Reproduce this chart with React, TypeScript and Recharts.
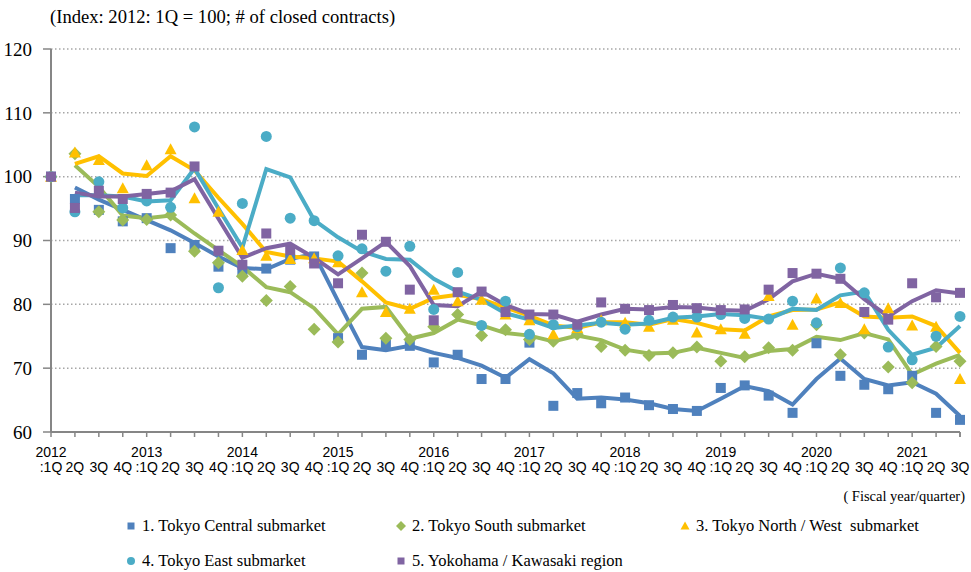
import { ComposedChart, Line, Scatter, XAxis, YAxis, CartesianGrid } from "recharts";

const years = ["2012", "2013", "2014", "2015", "2016", "2017", "2018", "2019", "2020", "2021"];
const quarterNames = [":1Q", "2Q", "3Q", "4Q"];
const quarterCount = 39; // 2012:1Q .. 2021:3Q

const yTicks = [60, 70, 80, 90, 100, 110, 120];

// quarterly index (markers)
const centralPts = [100, 96.5, 94.8, 93.0, 93.5, 88.8, 89.3, 85.9, 85.1, 85.6, 87.0, 87.5, 74.7, 72.1, 73.7, 73.5, 70.9, 72.1, 68.3, 68.3, 74.0, 64.1, 66.1, 64.5, 65.4, 64.2, 63.6, 63.3, 66.9, 67.3, 65.7, 63.0, 73.9, 68.8, 67.4, 66.7, 68.8, 63.0, 61.9];
const southPts = [100, 103.6, 94.5, 93.2, 93.3, 94.0, 88.3, 86.5, 84.4, 80.6, 82.8, 76.1, 74.1, 84.9, 74.7, 74.5, 76.5, 78.4, 75.1, 76.0, 74.5, 74.2, 75.3, 73.4, 72.8, 72.0, 72.4, 73.3, 71.1, 71.8, 73.2, 72.8, 76.8, 72.1, 75.5, 70.2, 67.7, 73.4, 71.1];
const northWestPts = [100, 103.8, 102.6, 98.2, 101.8, 104.3, 96.6, 94.5, 88.5, 87.6, 87.1, 87.2, 86.6, 81.9, 78.8, 79.3, 82.3, 80.5, 80.7, 78.4, 77.5, 75.3, 76.3, 77.5, 77.1, 76.5, 77.6, 75.6, 76.1, 75.4, 81.3, 76.8, 80.9, 80.2, 76.1, 79.4, 76.7, 76.5, 68.3];
const eastPts = [100, 94.5, 99.2, 95.1, 96.2, 95.2, 107.8, 82.6, 95.8, 106.3, 93.5, 93.1, 87.6, 88.7, 85.2, 89.1, 79.2, 85.0, 76.7, 80.5, 75.3, 76.8, 76.5, 77.2, 76.1, 77.5, 78.0, 78.0, 78.4, 77.8, 77.7, 80.5, 77.1, 85.7, 81.8, 73.3, 71.3, 75.0, 78.1];
const yokohamaPts = [100, 95.1, 97.8, 96.5, 97.3, 97.5, 101.6, 88.4, 86.2, 91.1, 88.5, 86.4, 83.3, 90.9, 89.8, 82.3, 77.5, 81.9, 82.0, 78.8, 78.4, 78.4, 76.8, 80.3, 79.3, 79.1, 79.9, 79.4, 79.1, 79.2, 82.3, 84.9, 84.8, 84.0, 78.8, 77.6, 83.3, 81.1, 81.8];

// smoothed trend lines (start at 2012:2Q)
const centralAvg = [null, 98.3, 96.4, 94.8, 93.2, 91.6, 89.6, 87.5, 85.7, 85.5, 87.1, 87.9, 80.5, 73.3, 72.8, 73.5, 72.4, 71.6, 70.4, 68.5, 71.4, 69.2, 65.2, 65.4, 65.1, 64.5, 63.6, 63.3, 65.2, 67.2, 66.4, 64.3, 68.3, 71.5, 68.3, 67.3, 67.8, 66.0, 62.5];
const southAvg = [null, 101.8, 98.4, 93.9, 93.5, 93.9, 91.1, 88.5, 85.9, 82.7, 81.9, 79.4, 75.3, 79.3, 79.6, 74.6, 75.5, 77.6, 76.7, 75.5, 75.1, 74.2, 75.1, 74.4, 72.9, 72.3, 72.4, 73.2, 72.4, 71.6, 72.7, 73.0, 74.9, 74.4, 75.5, 74.5, 69.0, 70.7, 72.1];
const northWestAvg = [null, 102.0, 103.2, 100.5, 100.1, 103.2, 101.0, 96.7, 92.6, 88.2, 87.5, 87.2, 86.7, 83.6, 80.3, 79.3, 81.0, 81.5, 80.8, 79.5, 78.2, 76.7, 76.3, 77.2, 77.2, 76.8, 77.7, 77.1, 76.1, 75.9, 78.1, 79.1, 79.2, 80.3, 78.1, 77.9, 78.1, 76.6, 72.4];
const eastAvg = [null, 97.1, 97.1, 96.9, 96.1, 96.3, 101.3, 95.0, 88.9, 101.2, 99.9, 93.2, 90.5, 88.3, 87.1, 87.0, 84.0, 82.0, 80.7, 78.6, 77.6, 76.3, 76.7, 77.1, 76.8, 77.0, 77.9, 78.1, 78.5, 78.3, 77.7, 79.3, 79.1, 81.4, 82.0, 76.0, 72.1, 73.2, 76.6];
const yokohamaAvg = [null, 97.5, 96.9, 96.9, 97.3, 97.7, 99.6, 93.4, 87.3, 88.8, 89.5, 87.3, 84.7, 87.2, 89.8, 86.0, 79.9, 79.7, 82.0, 79.9, 78.5, 78.4, 77.3, 78.4, 79.3, 79.2, 79.6, 79.5, 79.1, 79.0, 80.8, 83.6, 84.8, 84.0, 80.8, 78.1, 80.5, 82.2, 81.7];

const seriesNames = [
  "1. Tokyo Central submarket",
  "2. Tokyo South submarket",
  "3. Tokyo North / West  submarket",
  "4. Tokyo East submarket",
  "5. Yokohama / Kawasaki region",
];
const colors = ["#4F81BD", "#9BBB59", "#FFC000", "#4BACC6", "#8064A2"];
const shapes = ["square", "diamond", "triangle", "circle", "square"];

const points = [centralPts, southPts, northWestPts, eastPts, yokohamaPts];
const averages = [centralAvg, southAvg, northWestAvg, eastAvg, yokohamaAvg];

const data = Array.from({ length: quarterCount }, (_, i) => {
  const row: Record<string, any> = {
    q: `${years[Math.floor(i / 4)]}${quarterNames[i % 4]}`,
    year: years[Math.floor(i / 4)],
    quarter: quarterNames[i % 4],
  };
  points.forEach((arr, k) => (row[`p${k}`] = arr[i]));
  averages.forEach((arr, k) => (row[`m${k}`] = arr[i]));
  return row;
});

const axisGray = "#868686";

function Marker({ shape, color, cx, cy, s = 10 }: any) {
  if (cx == null || cy == null || isNaN(cx) || isNaN(cy)) return null;
  const h = s / 2;
  if (shape === "square") return <rect x={cx - h} y={cy - h} width={s} height={s} fill={color} />;
  if (shape === "diamond") {
    const d = h + 1.5;
    return <polygon points={`${cx},${cy - d} ${cx + d},${cy} ${cx},${cy + d} ${cx - d},${cy}`} fill={color} />;
  }
  if (shape === "triangle") {
    return <polygon points={`${cx},${cy - h - 1} ${cx + h + 1},${cy + h} ${cx - h - 1},${cy + h}`} fill={color} />;
  }
  return <circle cx={cx} cy={cy} r={h + 0.5} fill={color} />;
}

function QuarterTick(props: any) {
  const { x, y, payload } = props;
  const half = payload?.offset ?? 0;
  const i = payload?.index ?? props.index;
  const row = data[i];
  return (
    <g>
      <line x1={x - half} x2={x - half} y1={y} y2={y + 5} stroke={axisGray} strokeWidth={1.5} />
      {i === quarterCount - 1 && (
        <line x1={x + half} x2={x + half} y1={y} y2={y + 5} stroke={axisGray} strokeWidth={1.5} />
      )}
      {i % 4 === 0 && (
        <text x={x} y={y + 25} textAnchor="middle" fontSize={14} fontFamily="Liberation Sans, Arial" fill="#000">
          {row.year}
        </text>
      )}
      <text x={x} y={y + 40} textAnchor="middle" fontSize={14} fontFamily="Liberation Sans, Arial" fill="#000">
        {row.quarter}
      </text>
    </g>
  );
}

const legendCols = [131, 401, 685];
const legendRows = [526, 561];

export default function App() {
  return (
    <div style={{ position: "absolute", left: 0, top: 0, width: 971, height: 572, background: "#fff" }}>
      <div
        style={{
          position: "absolute",
          left: 50,
          top: 8,
          fontFamily: "Liberation Serif, Times New Roman, serif",
          fontSize: 18.6,
          lineHeight: "18px",
          whiteSpace: "nowrap",
          color: "#000",
        }}
      >
        (Index: 2012: 1Q = 100; # of closed contracts)
      </div>
      <ComposedChart width={971} height={572} data={data} margin={{ top: 49, right: 11, left: 0, bottom: 100 }}>
        <CartesianGrid horizontal vertical={false} stroke="#A6A6A6" strokeWidth={1.5} strokeDasharray="1.5 2.5" />
        <XAxis
          dataKey="q"
          interval={0}
          height={40}
          tickSize={0}
          tickMargin={0}
          tickLine={false}
          axisLine={{ stroke: axisGray, strokeWidth: 2 }}
          tick={<QuarterTick />}
        />
        <YAxis
          type="number"
          domain={[60, 120]}
          ticks={yTicks}
          interval={0}
          width={51}
          tickSize={8}
          tickMargin={11}
          axisLine={{ stroke: axisGray, strokeWidth: 2 }}
          tickLine={{ stroke: axisGray, strokeWidth: 1.5 }}
          tick={{ fill: "#000", fontSize: 19, fontFamily: "Liberation Serif, Times New Roman, serif" }}
        />
        {points.map((_, k) => (
          <Scatter
            key={`p${k}`}
            dataKey={`p${k}`}
            fill={colors[k]}
            isAnimationActive={false}
            shape={(p: any) => <Marker shape={shapes[k]} color={colors[k]} cx={p.cx} cy={p.cy} />}
          />
        ))}
        {averages.map((_, k) => (
          <Line
            key={`m${k}`}
            type="linear"
            dataKey={`m${k}`}
            stroke={colors[k]}
            strokeWidth={4}
            dot={false}
            activeDot={false}
            isAnimationActive={false}
          />
        ))}
      </ComposedChart>
      <div
        style={{
          position: "absolute",
          right: 6,
          top: 488,
          fontFamily: "Liberation Serif, Times New Roman, serif",
          fontSize: 14.5,
          lineHeight: "16px",
          color: "#000",
          whiteSpace: "nowrap",
        }}
      >
        ( Fiscal year/quarter)
      </div>
      {seriesNames.map((name, k) => {
        const col = legendCols[k < 3 ? k : k - 3];
        const row = legendRows[k < 3 ? 0 : 1];
        return (
          <div
            key={name}
            style={{
              position: "absolute",
              left: col - 8,
              top: row - 10,
              height: 20,
              display: "flex",
              alignItems: "center",
              whiteSpace: "pre",
              fontFamily: "Liberation Serif, Times New Roman, serif",
              fontSize: 16.5,
              color: "#000",
            }}
          >
            <svg width={16} height={20} style={{ marginRight: 3 }}>
              <Marker shape={shapes[k]} color={colors[k]} cx={8} cy={10} s={7} />
            </svg>
            {name}
          </div>
        );
      })}
    </div>
  );
}
